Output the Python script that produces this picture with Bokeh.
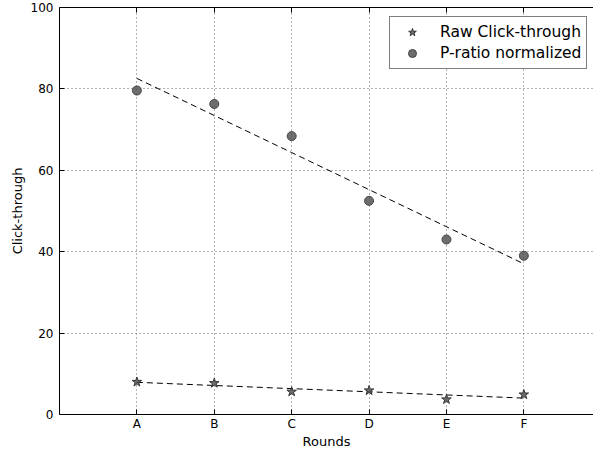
import numpy as np
from bokeh.plotting import figure
from bokeh.models import Range1d, FixedTicker, Legend, LegendItem, LinearAxis
from bokeh.embed import file_html
from bokeh.resources import INLINE

rounds = ["A", "B", "C", "D", "E", "F"]
raw_click = [8.0, 7.7, 5.6, 5.9, 3.7, 4.9]
p_ratio = [79.6, 76.3, 68.4, 52.5, 43.0, 39.0]
y_ticks = [0, 20, 40, 60, 80, 100]

xs = list(range(len(rounds)))
FONT = "DejaVu Sans"

p = figure(width=593, height=451, output_backend="svg", toolbar_location=None,
           x_range=Range1d(-1, 5.9), y_range=Range1d(0, 100),
           x_axis_location=None, y_axis_location=None,
           min_border_left=59, min_border_right=0, min_border_top=7, min_border_bottom=0)
p.background_fill_color = "white"
p.outline_line_color = None

bottom_axis = LinearAxis(ticker=FixedTicker(ticks=xs), axis_label="Rounds",
                         major_label_overrides={i: r for i, r in enumerate(rounds)})
left_axis = LinearAxis(ticker=FixedTicker(ticks=y_ticks), axis_label="Click-through")
top_axis = LinearAxis(ticker=FixedTicker(ticks=xs))
p.add_layout(bottom_axis, "below")
p.add_layout(left_axis, "left")
p.add_layout(top_axis, "above")

for g in p.grid:
    g.grid_line_color = "#666666"
    g.grid_line_dash = "1 3"
    g.grid_line_width = 1

for ax in (bottom_axis, left_axis, top_axis):
    ax.major_tick_in = 5
    ax.major_tick_out = 0
    ax.minor_tick_line_color = None
    ax.axis_line_color = "black"
    ax.axis_line_width = 1
    ax.major_label_text_font = FONT
    ax.major_label_text_font_size = "12px"
    ax.major_label_text_color = "black"
    ax.axis_label_text_font = FONT
    ax.axis_label_text_font_size = "13px"
    ax.axis_label_text_font_style = "normal"
    ax.axis_label_text_color = "black"

top_axis.major_label_text_color = None
top_axis.major_label_standoff = 0

bottom_axis.major_label_standoff = 2
bottom_axis.axis_label_standoff = 0
left_axis.major_label_standoff = 6
left_axis.axis_label_standoff = 3

# trend lines (least-squares fit of each series)
xa = np.array(xs, dtype=float)
for series in (raw_click, p_ratio):
    k, b = np.polyfit(xa, np.array(series), 1)
    p.line(xa, k * xa + b, line_color="black", line_dash="6 4", line_width=1)

r1 = p.scatter(xs, raw_click, marker="star", size=10, fill_color="#555555",
               line_color="#333333", fill_alpha=0.85, line_width=1)
r2 = p.scatter(xs, p_ratio, marker="circle", size=9, fill_color="#555555",
               line_color="#444444", fill_alpha=0.85, line_width=1)

legend = Legend(items=[LegendItem(label="Raw Click-through", renderers=[r1]),
                       LegendItem(label="P-ratio normalized", renderers=[r2])],
                location=(330, 345))
legend.label_text_font = FONT
legend.label_text_font_size = "15.5px"
legend.label_text_color = "black"
legend.border_line_color = "black"
legend.border_line_width = 1
legend.background_fill_alpha = 1
legend.margin = 0
legend.padding = 5
legend.spacing = 1
legend.glyph_width = 34
legend.glyph_height = 20
legend.label_height = 20
legend.label_standoff = 11
p.add_layout(legend)

open("out.html", "w").write(file_html(p, INLINE))
